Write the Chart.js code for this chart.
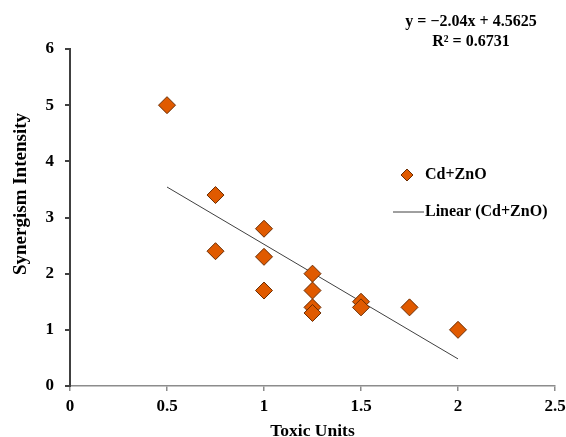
<!DOCTYPE html>
<html>
<head>
<meta charset="utf-8">
<script src="https://cdn.jsdelivr.net/npm/chart.js@4/dist/chart.umd.min.js"></script>
<style>
  html, body { margin: 0; padding: 0; background: #fff; }
  #wrap { width: 566px; height: 437px; }
</style>
</head>
<body>
<div id="wrap"><canvas id="myChart"></canvas></div>
<script>
// measured points (toxic units vs synergism intensity)
const toxicUnits = [0.5, 0.75, 0.75, 1, 1, 1, 1.25, 1.25, 1.25, 1.25, 1.5, 1.5, 1.75, 2];
const synergism = [5, 3.4, 2.4, 2.8, 2.3, 1.7, 2.0, 1.7, 1.4, 1.3, 1.5, 1.4, 1.4, 1.0];
const seriesName = "Cd+ZnO";
const trendName = "Linear (Cd+ZnO)";
const xTitle = "Toxic Units";
const yTitle = "Synergism Intensity";
// fitted line
const slope = -2.04;
const intercept = 4.5625;
const rSquared = 0.6731;
const trendX = [0.5, 2];

const FONT = "'Liberation Serif', 'Times New Roman', serif";
const ORANGE = "#E05A00";
const EDGE = "#6b2c00";

const points = toxicUnits.map((x, i) => ({ x: x, y: synergism[i] }));
const trend = trendX.map((x) => ({ x: x, y: slope * x + intercept }));

// equation text, y title and legend box
const extras = {
  id: "extras",
  afterDraw(chart) {
    const c = chart.ctx;
    c.save();
    c.fillStyle = "#000";
    c.font = "bold 16px " + FONT;
    c.textAlign = "center";
    c.textBaseline = "middle";
    c.fillText("y = \u22122.04x + 4.5625", 471, 22);
    c.fillText("R\u00B2 = " + rSquared.toFixed(4), 471, 42);

    // y axis title sits a bit above the axis middle
    c.save();
    c.translate(21, 194);
    c.rotate(-Math.PI / 2);
    c.font = "bold 19px " + FONT;
    c.fillText(yTitle, 0, 0);
    c.restore();

    // legend
    c.font = "bold 16px " + FONT;
    c.textAlign = "left";
    c.beginPath();
    c.moveTo(407, 169);
    c.lineTo(413, 175);
    c.lineTo(407, 181);
    c.lineTo(401, 175);
    c.closePath();
    c.fillStyle = ORANGE;
    c.fill();
    c.strokeStyle = EDGE;
    c.lineWidth = 1;
    c.stroke();
    c.fillStyle = "#000";
    c.fillText(seriesName, 425, 175);

    c.beginPath();
    c.moveTo(393, 212);
    c.lineTo(424, 212);
    c.strokeStyle = "#404040";
    c.lineWidth = 1;
    c.stroke();
    c.fillText(trendName, 425, 212);
    c.restore();
  }
};

const ctx = document.getElementById("myChart").getContext("2d");
const myChart = new Chart(ctx, {
  type: "scatter",
  data: {
    datasets: [
      {
        label: seriesName,
        data: points,
        pointStyle: "rectRot",
        pointRadius: 8.5,
        backgroundColor: ORANGE,
        borderColor: EDGE,
        borderWidth: 1,
        order: 1,
      },
      {
        label: trendName,
        type: "line",
        data: trend,
        borderColor: "#404040",
        borderWidth: 1,
        pointRadius: 0,
        fill: false,
        order: 2,
      },
    ],
  },
  plugins: [extras],
  options: {
    responsive: true,
    maintainAspectRatio: false,
    animation: false,
    layout: { padding: { top: 49, right: 0, left: 0, bottom: 0 } },
    plugins: {
      legend: { display: false },
      tooltip: { enabled: false },
    },
    scales: {
      x: {
        type: "linear",
        min: 0,
        max: 2.5,
        afterFit: (scale) => {
          scale.height = 51;
          scale.paddingRight = 11;
        },
        ticks: {
          stepSize: 0.5,
          color: "#000",
          padding: 5,
          callback: (v) => String(v),
          font: { family: FONT, size: 17, weight: "bold" },
        },
        grid: { drawOnChartArea: false, tickLength: 5, color: "#8c8c8c", lineWidth: 1.5 },
        border: { color: "#8c8c8c", width: 1.5 },
        title: {
          display: true,
          text: xTitle,
          color: "#000",
          padding: { top: 8, bottom: -5 },
          font: { family: FONT, size: 17.5, weight: "bold" },
        },
      },
      y: {
        min: 0,
        max: 6,
        afterFit: (scale) => { scale.width = 70; },
        ticks: {
          stepSize: 1,
          color: "#000",
          padding: 11,
          font: { family: FONT, size: 17, weight: "bold" },
        },
        grid: { drawOnChartArea: false, tickLength: 5, color: "#404040", lineWidth: 2 },
        border: { color: "#404040", width: 2 },
      },
    },
  },
});
</script>
</body>
</html>
